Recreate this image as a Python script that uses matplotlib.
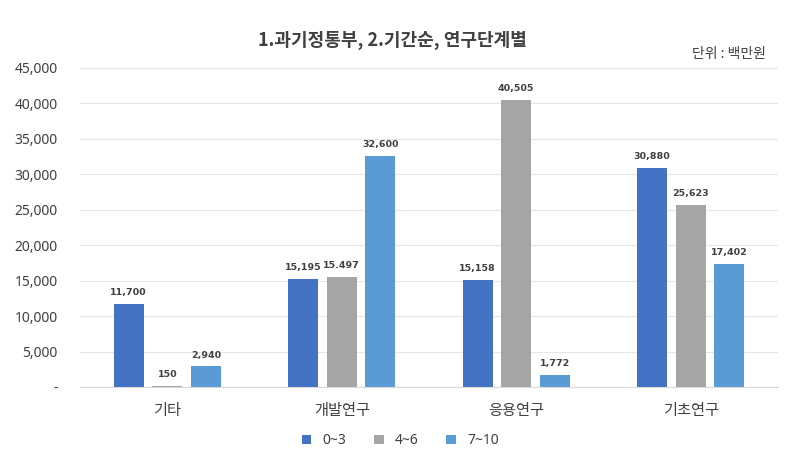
import numpy as np
import matplotlib.pyplot as plt
from matplotlib.ticker import FuncFormatter

plt.rcParams['font.family'] = ['Noto Sans', 'Noto Sans CJK KR', 'DejaVu Sans']

categories = ["기타", "개발연구", "응용연구", "기초연구"]
series_names = ["0~3", "4~6", "7~10"]
values = [
    [11700, 15195, 15158, 30880],
    [150, 15497, 40505, 25623],
    [2940, 32600, 1772, 17402],
]
# labels as printed on the chart (one has a dot instead of a comma)
labels = [
    ["11,700", "15,195", "15,158", "30,880"],
    ["150", "15.497", "40,505", "25,623"],
    ["2,940", "32,600", "1,772", "17,402"],
]
colors = ["#4472C4", "#A5A5A5", "#5B9BD5"]

fig = plt.figure(figsize=(7.85, 4.73), dpi=100)
ax = fig.add_axes([0.102, 0.181, 0.889, 0.676])

x = np.arange(len(categories))
width = 0.172
step = 0.2215
for i, (vals, labs) in enumerate(zip(values, labels)):
    pos = x + (i - 1) * step
    ax.bar(pos, vals, width, color=colors[i], label=series_names[i], zorder=2)
    for p, v, t in zip(pos, vals, labs):
        ax.annotate(t, (p, v), xytext=(0, 5), textcoords="offset points",
                    ha="center", va="bottom", fontsize=6.8, fontweight="bold",
                    family="DejaVu Sans", color="#404040")

ax.set_xlim(-0.5, 3.5)
ax.set_ylim(0, 45000)
ax.set_yticks(np.arange(0, 45001, 5000))
ax.yaxis.set_major_formatter(FuncFormatter(lambda v, p: "-" if v == 0 else f"{int(v):,}"))
ax.set_xticks(x)
ax.set_xticklabels(categories, fontsize=11, color="#404040")
ax.tick_params(axis="y", labelsize=10, colors="#404040", length=0, pad=16)
ax.tick_params(axis="x", length=0, pad=12)

ax.grid(axis="y", color="#E6E6E6", linewidth=0.8, zorder=0)
for s in ["top", "right", "left"]:
    ax.spines[s].set_visible(False)
ax.spines["bottom"].set_color("#D9D9D9")

fig.text(0.5, 0.915, "1.과기정통부, 2.기간순, 연구단계별", ha="center", va="center",
         fontsize=13, fontweight="bold", family=["Noto Sans CJK KR", "DejaVu Sans"],
         color="#404040")
fig.text(0.975, 0.885, "단위 : 백만원", ha="right", va="center", fontsize=10,
         family=["Noto Sans CJK KR", "DejaVu Sans"], color="#404040")

fig.legend(loc="center", bbox_to_anchor=(0.51, 0.068), ncol=3, frameon=False,
           fontsize=10, handlelength=0.7, handleheight=0.7, columnspacing=2.0,
           labelcolor="#404040")

fig.savefig("out.png", dpi=100)
